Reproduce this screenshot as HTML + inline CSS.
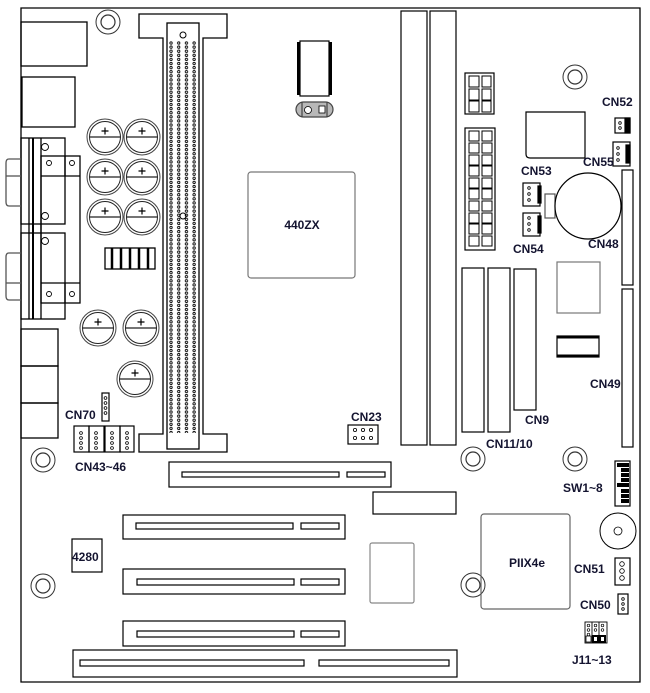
<!DOCTYPE html>
<html><head><meta charset="utf-8"><style>
html,body{margin:0;padding:0;background:#fff;}
svg{display:block;}
text{font-family:"Liberation Sans",Arial,sans-serif;font-weight:bold;font-size:12px;fill:#141430;}
</style></head><body>
<svg width="650" height="693" viewBox="0 0 650 693" xmlns="http://www.w3.org/2000/svg">
<defs>
<pattern id="pins" x="169" y="41" width="7.7" height="4.1" patternUnits="userSpaceOnUse">
<circle cx="2" cy="2" r="1.2" fill="none" stroke="#000" stroke-width="0.9"/>
</pattern>
<g id="hole"><circle r="12" fill="none" stroke="#333" stroke-width="1"/><circle r="7" fill="none" stroke="#333" stroke-width="1.2"/></g>
<g id="cap"><circle r="18" fill="#fff" stroke="#444" stroke-width="1"/><circle r="15.5" fill="none" stroke="#222" stroke-width="1"/><line x1="-15.5" y1="0" x2="15.5" y2="0" stroke="#222" stroke-width="1.2"/><path d="M-3.5 -6h7M0 -9.5v7" stroke="#000" stroke-width="1.2"/></g>
</defs>
<g fill="none" stroke="#000" stroke-width="1.3">
<path d="M21 8H640V682H21Z"/>
<rect x="21" y="22" width="66" height="44"/>
<rect x="22" y="77" width="53" height="50"/>
<rect x="21" y="138" width="44" height="86"/>
<rect x="21" y="233" width="44" height="86"/>
<line x1="29" y1="138" x2="29" y2="319"/>
<line x1="33" y1="138" x2="33" y2="319" stroke-width="2"/>
<line x1="41" y1="138" x2="41" y2="319"/>
<rect x="41" y="156" width="39" height="147"/>
<line x1="41" y1="176" x2="80" y2="176"/><line x1="41" y1="283" x2="80" y2="283"/>
<line x1="65" y1="156" x2="65" y2="176"/><line x1="65" y1="283" x2="65" y2="303"/>
<path d="M21 159H9Q6 159 6 163V202Q6 206 9 206H21" stroke="#555"/>
<path d="M21 253H9Q6 253 6 257V296Q6 300 9 300H21" stroke="#555"/>
<line x1="6" y1="176" x2="21" y2="176" stroke="#555"/><line x1="6" y1="283" x2="21" y2="283" stroke="#555"/>
<g stroke-width="0.9"><circle cx="45" cy="147" r="3.5"/><circle cx="49" cy="163" r="2.5"/><circle cx="72" cy="163" r="2.5"/><circle cx="45" cy="216" r="3.5"/><circle cx="45" cy="241" r="3.5"/><circle cx="49" cy="294" r="2.5"/><circle cx="72" cy="294" r="2.5"/></g>
<rect x="21" y="329" width="37" height="37"/>
<rect x="21" y="366" width="37" height="37"/>
<rect x="21" y="403" width="37" height="35"/>
<rect x="105" y="248" width="50" height="21"/>
<g stroke-width="2.5"><line x1="112" y1="248" x2="112" y2="269"/><line x1="121" y1="248" x2="121" y2="269"/><line x1="130" y1="248" x2="130" y2="269"/><line x1="139" y1="248" x2="139" y2="269"/><line x1="148" y1="248" x2="148" y2="269"/></g>
<path d="M139 14H227V38H203V434H227V452H139V434H163V38H139Z"/>
<rect x="167" y="23" width="32" height="426"/>
</g>
<rect x="169" y="41" width="31" height="392" fill="url(#pins)"/>
<g fill="none" stroke="#000"><circle cx="183" cy="35" r="3"/><circle cx="183" cy="216" r="3"/></g>
<use href="#cap" x="105" y="137"/><use href="#cap" x="142" y="137"/>
<use href="#cap" x="105" y="177"/><use href="#cap" x="142" y="177"/>
<use href="#cap" x="105" y="217"/><use href="#cap" x="142" y="217"/>
<use href="#cap" x="98" y="328"/><use href="#cap" x="141" y="328"/>
<use href="#cap" x="135" y="379"/>
<use href="#hole" x="108" y="22"/><use href="#hole" x="43" y="460"/><use href="#hole" x="43" y="586"/>
<use href="#hole" x="575" y="77"/><use href="#hole" x="473" y="459"/><use href="#hole" x="575" y="459"/><use href="#hole" x="473" y="585"/>
<g fill="none" stroke="#000" stroke-width="1.2">
<rect x="102" y="393" width="7" height="28"/>
<g stroke-width="0.8"><circle cx="105.5" cy="398" r="1.4"/><circle cx="105.5" cy="403" r="1.4"/><circle cx="105.5" cy="408" r="1.4"/><circle cx="105.5" cy="413" r="1.4"/></g>
<rect x="74" y="426" width="15" height="26"/><rect x="89" y="426" width="15" height="26"/><rect x="105" y="426" width="15" height="26"/><rect x="120" y="426" width="14" height="26"/>
<g stroke-width="0.8">
<circle cx="81" cy="433" r="1.4"/><circle cx="81" cy="438" r="1.4"/><circle cx="81" cy="443" r="1.4"/><circle cx="81" cy="448" r="1.4"/>
<circle cx="96" cy="433" r="1.4"/><circle cx="96" cy="438" r="1.4"/><circle cx="96" cy="443" r="1.4"/><circle cx="96" cy="448" r="1.4"/>
<circle cx="112" cy="433" r="1.4"/><circle cx="112" cy="438" r="1.4"/><circle cx="112" cy="443" r="1.4"/><circle cx="112" cy="448" r="1.4"/>
<circle cx="127" cy="433" r="1.4"/><circle cx="127" cy="438" r="1.4"/><circle cx="127" cy="443" r="1.4"/><circle cx="127" cy="448" r="1.4"/></g>
<rect x="248" y="172" width="107" height="106" rx="3" stroke="#777"/>
<rect x="300" y="41" width="29" height="55"/>
<rect x="297" y="42" width="3" height="53" fill="#000" stroke="none"/>
<rect x="329" y="42" width="3" height="53" fill="#000" stroke="none"/>
<rect x="296" y="102" width="37" height="15" rx="7.5" fill="#b8b8b8" stroke="#444"/>
<line x1="302" y1="102" x2="302" y2="117" stroke="#444"/><line x1="327" y1="102" x2="327" y2="117" stroke="#444"/>
<circle cx="308" cy="110" r="3.5" fill="#fff" stroke-width="0.8"/><rect x="319" y="106" width="6" height="7" fill="#fff" stroke-width="0.8"/>
<rect x="401" y="11" width="26" height="434"/><rect x="430" y="11" width="26" height="434"/>
<rect x="465" y="73" width="29" height="41"/>
<g stroke-width="1"><rect x="469" y="76" width="10" height="11"/><rect x="482" y="76" width="9" height="11"/><rect x="469" y="89" width="10" height="11"/><rect x="482" y="89" width="9" height="11"/><rect x="469" y="101" width="10" height="11"/><rect x="482" y="101" width="9" height="11"/></g>
<rect x="465" y="128" width="30" height="122"/>
<g stroke-width="1">
<rect x="469" y="131" width="10" height="10"/><rect x="482" y="131" width="10" height="10"/>
<rect x="469" y="143" width="10" height="10"/><rect x="482" y="143" width="10" height="10"/>
<rect x="469" y="155" width="10" height="10"/><rect x="482" y="155" width="10" height="10"/>
<rect x="469" y="166" width="10" height="10"/><rect x="482" y="166" width="10" height="10"/>
<rect x="469" y="178" width="10" height="10"/><rect x="482" y="178" width="10" height="10"/>
<rect x="469" y="189" width="10" height="10"/><rect x="482" y="189" width="10" height="10"/>
<rect x="469" y="201" width="10" height="10"/><rect x="482" y="201" width="10" height="10"/>
<rect x="469" y="213" width="10" height="10"/><rect x="482" y="213" width="10" height="10"/>
<rect x="469" y="224" width="10" height="10"/><rect x="482" y="224" width="10" height="10"/>
<rect x="469" y="236" width="10" height="10"/><rect x="482" y="236" width="10" height="10"/></g>
<path d="M526 112H585V158H530Q526 158 526 154Z" stroke="#000"/>
<rect x="615" y="118" width="15" height="15"/><rect x="625" y="118" width="5" height="15" fill="#000"/>
<circle cx="620" cy="123" r="1.3" stroke-width="0.8"/><circle cx="620" cy="128" r="1.3" stroke-width="0.8"/>
<rect x="613" y="142" width="17" height="24"/><rect x="626" y="145" width="4" height="18" fill="#000"/>
<circle cx="618" cy="148" r="1.3" stroke-width="0.8"/><circle cx="618" cy="154" r="1.3" stroke-width="0.8"/><circle cx="618" cy="160" r="1.3" stroke-width="0.8"/>
<rect x="523" y="183" width="17" height="23"/><rect x="538" y="186" width="3" height="17" fill="#000"/>
<circle cx="529" cy="188" r="1.3" stroke-width="0.8"/><circle cx="529" cy="194" r="1.3" stroke-width="0.8"/><circle cx="529" cy="200" r="1.3" stroke-width="0.8"/>
<rect x="523" y="213" width="17" height="23"/><rect x="538" y="216" width="3" height="17" fill="#000"/>
<circle cx="529" cy="218" r="1.3" stroke-width="0.8"/><circle cx="529" cy="224" r="1.3" stroke-width="0.8"/><circle cx="529" cy="230" r="1.3" stroke-width="0.8"/>
<rect x="545" y="194" width="10" height="24" stroke="#555"/>
<circle cx="588" cy="206" r="33" fill="#fff"/>
<rect x="622" y="170" width="11" height="115"/><rect x="622" y="289" width="11" height="158"/>
<rect x="557" y="262" width="43" height="51" stroke="#777"/>
<rect x="557" y="336" width="42" height="21"/><line x1="557" y1="337" x2="599" y2="337" stroke-width="3"/><line x1="557" y1="356" x2="599" y2="356" stroke-width="3"/>
<rect x="462" y="268" width="22" height="164"/><rect x="488" y="268" width="22" height="164"/><rect x="514" y="269" width="22" height="141"/>
<rect x="348" y="425" width="30" height="19"/>
<g stroke-width="0.8"><circle cx="355" cy="430" r="1.6"/><circle cx="363" cy="430" r="1.6"/><circle cx="371" cy="430" r="1.6"/><circle cx="355" cy="438" r="1.6"/><circle cx="363" cy="438" r="1.6"/><circle cx="371" cy="438" r="1.6"/></g>
<rect x="615" y="461" width="15" height="45" fill="#fff"/>
<g fill="#000" stroke="none"><rect x="617" y="463" width="12" height="4"/><rect x="621" y="468" width="8" height="4"/><rect x="621" y="473" width="8" height="4"/><rect x="621" y="478" width="8" height="4"/><rect x="617" y="483" width="12" height="4"/><rect x="621" y="489" width="8" height="4"/><rect x="621" y="494" width="8" height="4"/><rect x="621" y="499" width="8" height="4"/></g>
<circle cx="618" cy="531" r="18" stroke-width="1"/><circle cx="618" cy="531" r="4" stroke-width="0.8"/>
<rect x="481" y="514" width="89" height="95" rx="3" stroke="#666"/>
<rect x="615" y="558" width="15" height="27"/>
<circle cx="622" cy="564" r="2.3" stroke-width="0.8"/><circle cx="622" cy="571" r="2.3" stroke-width="0.8"/><circle cx="622" cy="578" r="2.3" stroke-width="0.8"/>
<rect x="618" y="594" width="10" height="20"/>
<circle cx="623" cy="599" r="1.3" stroke-width="0.8"/><circle cx="623" cy="604" r="1.3" stroke-width="0.8"/><circle cx="623" cy="609" r="1.3" stroke-width="0.8"/>
<rect x="585" y="622" width="22" height="21" stroke-width="0.9"/>
<line x1="592" y1="622" x2="592" y2="643" stroke-width="0.9"/><line x1="599" y1="622" x2="599" y2="643" stroke-width="0.9"/>
<g stroke-width="0.7"><circle cx="588.5" cy="625.5" r="1.3"/><circle cx="588.5" cy="630" r="1.3"/><circle cx="588.5" cy="634.5" r="1.3"/><circle cx="595.5" cy="625.5" r="1.3"/><circle cx="595.5" cy="630" r="1.3"/><circle cx="602.5" cy="625.5" r="1.3"/><circle cx="602.5" cy="630" r="1.3"/></g>
<rect x="586" y="636" width="5" height="6" stroke-width="0.8"/><rect x="593" y="636" width="5" height="6" stroke-width="2"/><rect x="600" y="636" width="5" height="6" stroke-width="2"/>
<rect x="169" y="462" width="222" height="25"/><rect x="182" y="472" width="157" height="5"/><rect x="347" y="472" width="38" height="5"/>
<rect x="373" y="492" width="83" height="22"/>
<rect x="123" y="515" width="222" height="24"/><rect x="136" y="523" width="157" height="6"/><rect x="301" y="523" width="38" height="6"/>
<rect x="123" y="569" width="222" height="25"/><rect x="137" y="579" width="157" height="6"/><rect x="301" y="579" width="38" height="6"/>
<rect x="123" y="621" width="222" height="25"/><rect x="137" y="631" width="157" height="6"/><rect x="301" y="631" width="38" height="6"/>
<rect x="73" y="650" width="384" height="27"/><rect x="80" y="660" width="224" height="6"/><rect x="319" y="660" width="130" height="6"/>
<rect x="72" y="539" width="30" height="33"/>
<rect x="370" y="543" width="44" height="60" rx="2" stroke="#888"/>
</g>
<text x="302" y="229" text-anchor="middle">440ZX</text>
<text x="527" y="567" text-anchor="middle">PIIX4e</text>
<text x="72" y="561">4280</text>
<text x="65" y="419">CN70</text>
<text x="75" y="471">CN43~46</text>
<text x="351" y="421">CN23</text>
<text x="602" y="106">CN52</text>
<text x="583" y="166">CN55</text>
<text x="521" y="175">CN53</text>
<text x="513" y="253">CN54</text>
<text x="588" y="248">CN48</text>
<text x="590" y="388">CN49</text>
<text x="525" y="424">CN9</text>
<text x="486" y="448">CN11/10</text>
<text x="563" y="492">SW1~8</text>
<text x="574" y="573">CN51</text>
<text x="580" y="609">CN50</text>
<text x="572" y="664">J11~13</text>
</svg>
</body></html>
